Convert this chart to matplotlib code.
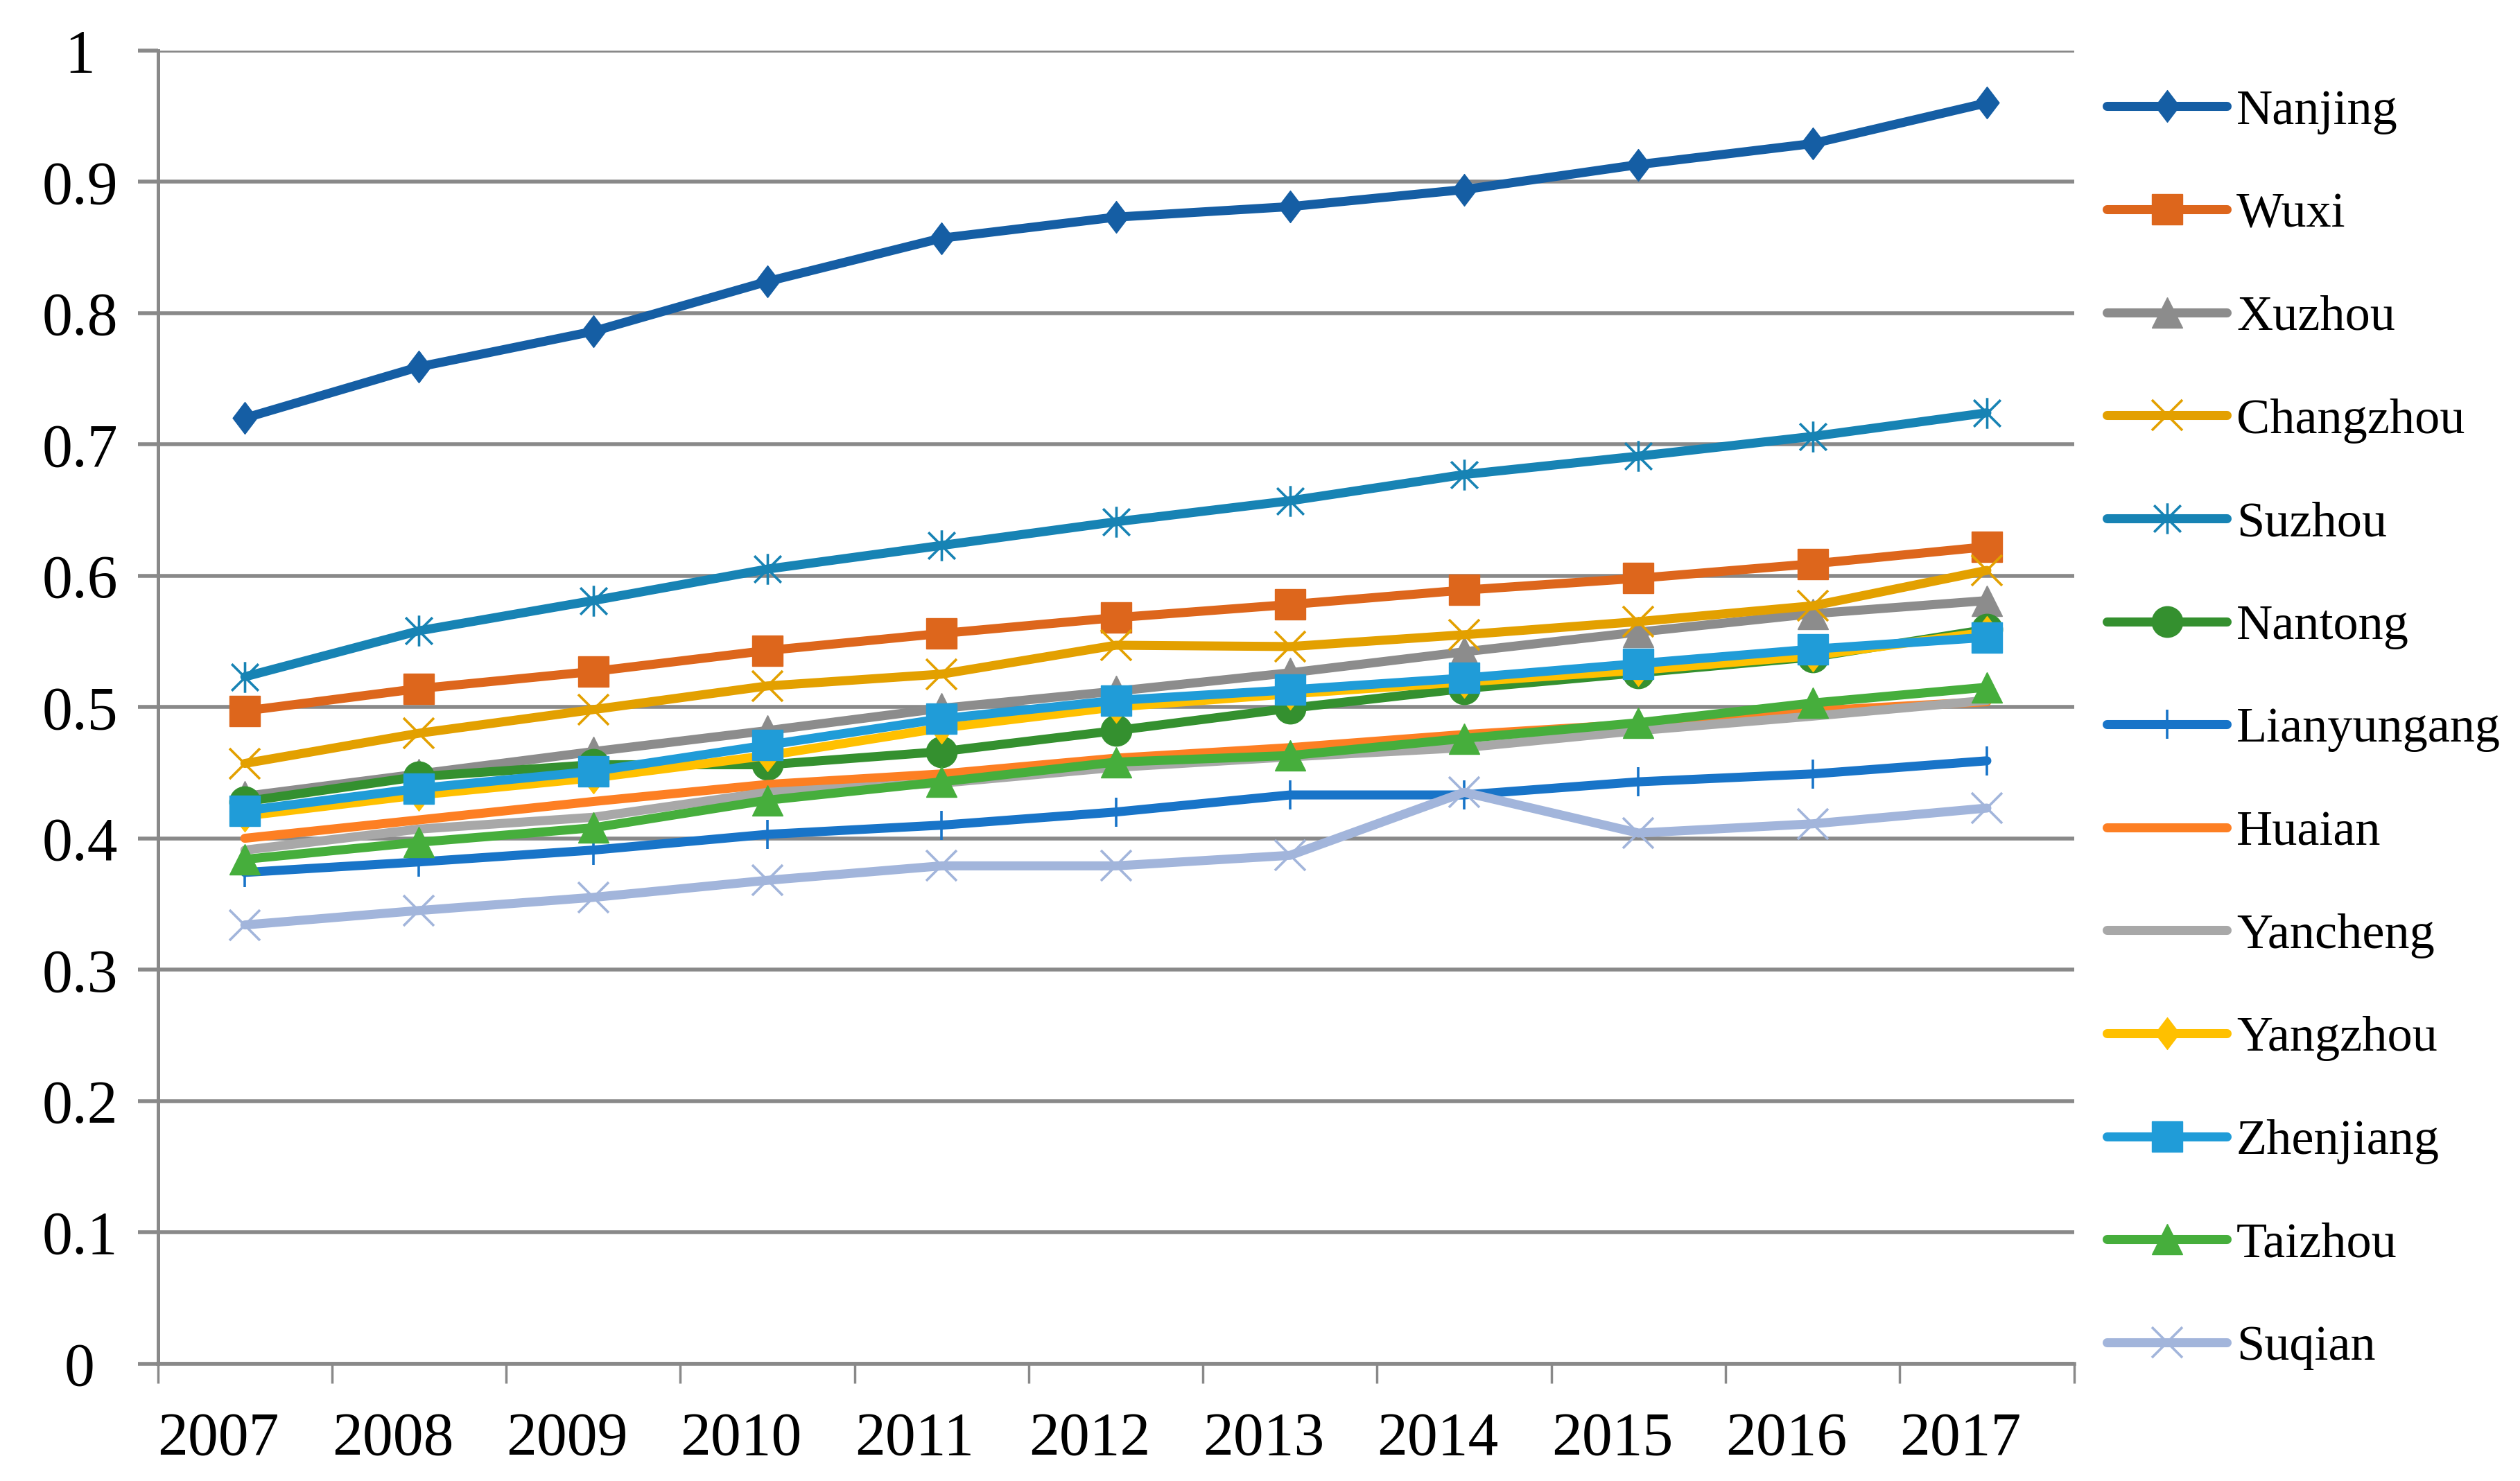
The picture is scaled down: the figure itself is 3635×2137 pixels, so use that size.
import matplotlib
matplotlib.use("Agg")
import matplotlib.pyplot as plt
from matplotlib.path import Path

years = ["2007", "2008", "2009", "2010", "2011", "2012", "2013", "2014", "2015", "2016", "2017"]

nanjing     = [0.720, 0.759, 0.786, 0.824, 0.857, 0.873, 0.881, 0.894, 0.913, 0.929, 0.960]
wuxi        = [0.497, 0.514, 0.527, 0.543, 0.556, 0.568, 0.578, 0.589, 0.598, 0.609, 0.622]
xuzhou      = [0.432, 0.449, 0.466, 0.482, 0.499, 0.512, 0.526, 0.542, 0.557, 0.571, 0.581]
changzhou   = [0.457, 0.480, 0.498, 0.516, 0.525, 0.547, 0.546, 0.555, 0.565, 0.577, 0.604]
suzhou      = [0.523, 0.558, 0.581, 0.605, 0.623, 0.641, 0.657, 0.677, 0.691, 0.706, 0.724]
nantong     = [0.428, 0.447, 0.456, 0.456, 0.466, 0.482, 0.499, 0.514, 0.526, 0.538, 0.559]
lianyungang = [0.374, 0.382, 0.391, 0.403, 0.410, 0.420, 0.433, 0.433, 0.443, 0.449, 0.459]
huaian      = [0.400, 0.414, 0.428, 0.441, 0.449, 0.461, 0.469, 0.479, 0.487, 0.497, 0.504]
yancheng    = [0.391, 0.407, 0.416, 0.435, 0.442, 0.454, 0.462, 0.469, 0.482, 0.493, 0.505]
yangzhou    = [0.417, 0.433, 0.446, 0.463, 0.484, 0.500, 0.510, 0.519, 0.528, 0.539, 0.557]
zhenjiang   = [0.421, 0.438, 0.451, 0.471, 0.491, 0.505, 0.513, 0.522, 0.533, 0.544, 0.553]
taizhou     = [0.384, 0.397, 0.408, 0.429, 0.443, 0.458, 0.463, 0.476, 0.488, 0.503, 0.515]
suqian      = [0.334, 0.345, 0.355, 0.368, 0.379, 0.379, 0.387, 0.435, 0.404, 0.411, 0.423]

city_names = ["Nanjing", "Wuxi", "Xuzhou", "Changzhou", "Suzhou", "Nantong", "Lianyungang",
              "Huaian", "Yancheng", "Yangzhou", "Zhenjiang", "Taizhou", "Suqian"]
series = [nanjing, wuxi, xuzhou, changzhou, suzhou, nantong, lianyungang,
          huaian, yancheng, yangzhou, zhenjiang, taizhou, suqian]

colors = ["#155EA4", "#DD661C", "#8C8C8C", "#E3A000", "#1783B4", "#34902F", "#1874C8",
          "#FD7F23", "#A8A8A8", "#FFC000", "#209CD8", "#46AE3C", "#A2B5DB"]

star = Path([(-1, -1), (1, 1), (-1, 1), (1, -1), (0, -1.15), (0, 1.15)],
            [Path.MOVETO, Path.LINETO, Path.MOVETO, Path.LINETO, Path.MOVETO, Path.LINETO])
diamond = Path([(0, 1), (0.76, 0), (0, -1), (-0.76, 0), (0, 1)],
               [Path.MOVETO, Path.LINETO, Path.LINETO, Path.LINETO, Path.CLOSEPOLY])

# marker, size(pt), filled
mk = [(diamond, 33, True), ("s", 32, True), ("^", 32, True), ("x", 31, False),
      (star, 32, False), ("o", 32, True), ("|", 30, False), (None, 0, True),
      (None, 0, True), (diamond, 33, True), ("s", 32, True), ("^", 32, True), ("x", 31, False)]

plt.rcParams['font.family'] = ['Liberation Serif', 'DejaVu Serif']

fig = plt.figure(figsize=(36.35, 21.37), dpi=100)
ax = fig.add_axes([0.0626, 0.0793, 0.823 - 0.0626, 0.966 - 0.0793])

grid_c = "#898989"
x = list(range(len(years)))
for name, vals, c, (m, s, filled) in zip(city_names, series, colors, mk):
    kw = dict(color=c, lw=9.4, solid_capstyle="round", solid_joinstyle="round", label=name)
    if m is not None:
        kw.update(marker=m, markersize=s, markeredgecolor=c,
                  markerfacecolor=c if filled else "none",
                  markeredgewidth=1.0 if filled else 2.6)
    ax.plot(x, vals, **kw)

ax.set_xlim(-0.5, len(years) - 0.5)
ax.set_ylim(0, 1)
ax.set_yticks([i / 10 for i in range(11)])
ax.set_yticklabels(["0", "0.1", "0.2", "0.3", "0.4", "0.5", "0.6", "0.7", "0.8", "0.9", "1"])
ax.yaxis.grid(True, color=grid_c, lw=4.0)
ax.set_axisbelow(True)
ax.tick_params(axis="y", length=21, width=4.0, color=grid_c, labelsize=63, pad=60)
for lab in ax.get_yticklabels():
    lab.set_horizontalalignment("center")

ax.set_xticks([i - 0.5 for i in range(len(years) + 1)])
ax.set_xticklabels(years + [""])
for lab in ax.get_xticklabels():
    lab.set_horizontalalignment("left")
ax.tick_params(axis="x", length=20, width=2.5, color=grid_c, labelsize=63, pad=30)

for sp in ["top", "right"]:
    ax.spines[sp].set_visible(False)
ax.spines["left"].set_color(grid_c)
ax.spines["left"].set_linewidth(3.6)
ax.spines["bottom"].set_color(grid_c)
ax.spines["bottom"].set_linewidth(4.0)

fig.legend(loc="upper left", bbox_to_anchor=(0.836, 0.940), frameon=False,
           fontsize=52, handlelength=2.4, handletextpad=0.19, labelspacing=1.15,
           borderaxespad=0, borderpad=0)

fig.savefig("out.png", dpi=100)
